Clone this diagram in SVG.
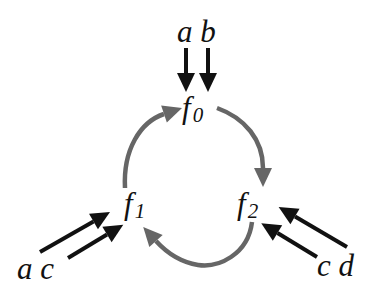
<svg xmlns="http://www.w3.org/2000/svg" width="376" height="298" viewBox="0 0 376 298">
<style>
.t{font-family:"Liberation Serif","Times New Roman",serif;font-style:italic;fill:#111}
.lbl{font-size:31px}
.sub{font-size:21px}
.g{fill:none;stroke:#666;stroke-width:4.5}
.k{fill:none;stroke:#111;stroke-width:4}
</style>
<defs>
<marker id="hg" markerUnits="userSpaceOnUse" markerWidth="22" markerHeight="20" refX="0" refY="9" orient="auto" viewBox="0 0 22 20" overflow="visible">
<path d="M0,0 L19,9 L0,18 z" fill="#666"/>
</marker>
<marker id="hk" markerUnits="userSpaceOnUse" markerWidth="22" markerHeight="20" refX="0" refY="9" orient="auto" viewBox="0 0 22 20" overflow="visible">
<path d="M0,0 L19,9 L0,18 z" fill="#111"/>
</marker>
</defs>
<g id="connectors">
<path class="g" d="M125,188 C123,150 140,122 164,114" marker-end="url(#hg)"/>
<path class="g" d="M217,108 C245,118 263,140 263,168" marker-end="url(#hg)"/>
<path class="g" d="M252,222 C248,255 218,268 198,265 C180,262 166,252 156,241" marker-end="url(#hg)"/>
<path class="k" d="M186,48 L186,73" marker-end="url(#hk)"/>
<path class="k" d="M208,48 L208,73" marker-end="url(#hk)"/>
<path class="k" d="M40,252 L93.5,221.5" marker-end="url(#hk)"/>
<path class="k" d="M68,258 L107,234.5" marker-end="url(#hk)"/>
<path class="k" d="M347,247 L295,216.5" marker-end="url(#hk)"/>
<path class="k" d="M317,257 L277.5,233" marker-end="url(#hk)"/>
</g>
<g id="f0"><text class="t lbl" x="182" y="118">f<tspan class="sub" dx="2" dy="4">0</tspan></text></g>
<g id="f1"><text class="t lbl" x="124" y="214">f<tspan class="sub" dx="2" dy="4">1</tspan></text></g>
<g id="f2"><text class="t lbl" x="237" y="214">f<tspan class="sub" dx="2" dy="4">2</tspan></text></g>
<g id="in-ab"><text class="t lbl" x="177" y="42">a b</text></g>
<g id="in-ac"><text class="t lbl" x="17" y="279">a c</text></g>
<g id="in-cd"><text class="t lbl" x="317" y="276">c d</text></g>
</svg>
